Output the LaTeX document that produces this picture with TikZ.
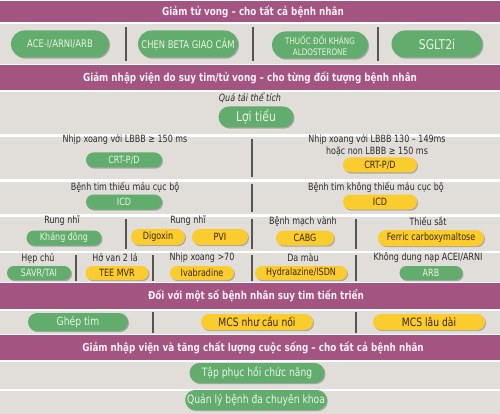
\documentclass[tikz,border=0pt]{standalone}
\usepackage{fontspec}
\setmainfont{DejaVu Sans}[FakeStretch=0.8]
\usetikzlibrary{shapes.misc,shadows}
\definecolor{hdrc}{RGB}{164,84,128}
\definecolor{hdrtxt}{RGB}{250,240,245}
\definecolor{rowbg}{RGB}{225,221,217}
\definecolor{gfill}{RGB}{98,172,110}
\definecolor{yfill}{RGB}{250,204,45}
\definecolor{gtext}{RGB}{232,245,228}
\definecolor{ytext}{RGB}{60,40,15}
\definecolor{bodyc}{RGB}{45,45,45}
\definecolor{divc}{RGB}{85,85,85}
\tikzset{
  hdrtext/.style={text=hdrtxt, font=\bfseries\fontsize{11}{13}\selectfont, inner sep=0pt},
  lbl/.style={text=bodyc, font=\fontsize{10}{12}\selectfont, inner sep=0pt, align=center},
  pillbase/.style={rounded rectangle, inner sep=0pt, align=center,
    drop shadow={shadow xshift=1pt, shadow yshift=-1.2pt, opacity=0.45, fill=black!60}},
  gp/.style={pillbase, fill=gfill, text=gtext},
  yp/.style={pillbase, fill=yfill, text=ytext},
  divl/.style={draw=divc, line width=1.6pt},
  fa/.style={font=\fontsize{10}{12}\selectfont},
  fb/.style={font=\fontsize{11.5}{13}\selectfont},
  fc/.style={font=\fontsize{13.5}{15}\selectfont},
}
\begin{document}
\begin{tikzpicture}[x=1pt,y=-1pt]
\fill[white] (0,0) rectangle (500,414);
\useasboundingbox (0,0) rectangle (500,414);
% gray rows
\foreach \a/\b in {24/64,92/134,137/179,182/214,217/251,253/282,311/334,362/389,391/414}
  \fill[rowbg] (0,\a) rectangle (500,\b);
% header bands
\foreach \a/\b in {1/22,65/90,283/309,335/360}
  \fill[hdrc] (0,\a) rectangle (500,\b);
% dividers
\foreach \x in {126,253,378} \draw[divl] (\x,27) -- (\x,61);
\foreach \a/\b in {139/177,184/212,219/249,255/281} \draw[divl] (252,\a) -- (252,\b);
\draw[divl] (126,219) -- (126,249);
\draw[divl] (356,219) -- (356,249);
\draw[divl] (356,255) -- (356,281);
\draw[divl] (76,255) -- (76,281);
\draw[divl] (153,255) -- (153,281);
\draw[divl] (153,312) -- (153,333);
\draw[divl] (356,312) -- (356,333);
% headers
\node[hdrtext] (h1) at (253,12) {Giảm tử vong – cho tất cả bệnh nhân};
\node[hdrtext] (h2) at (250,78) {Giảm nhập viện do suy tim/tử vong – cho từng đối tượng bệnh nhân};
\node[hdrtext] (h3) at (256,296) {Đối với một số bệnh nhân suy tim tiến triển};
\node[hdrtext] (h4) at (253,348) {Giảm nhập viện và tăng chất lượng cuộc sống – cho tất cả bệnh nhân};
% row 1
\node[gp, minimum width=98pt, minimum height=27pt, font=\fontsize{10.5}{12}\selectfont] (ace) at (60,44) {ACE-I/ARNI/ARB};
\node[gp, minimum width=100pt, minimum height=27pt, font=\fontsize{10.5}{12}\selectfont] (beta) at (188,44) {CHẸN BETA GIAO CẢM};
\node[gp, minimum width=96pt, minimum height=27pt, font=\fontsize{9}{11}\selectfont] (aldo) at (320,45) {THUỐC ĐỐI KHÁNG\\ALDOSTERONE};
\node[gp, minimum width=91pt, minimum height=27pt, font=\fontsize{13.5}{15}\selectfont] (sglt) at (437,44) {SGLT2i};
% volume
\node[lbl, font=\itshape\fontsize{10}{12}\selectfont] (qua) at (250,98) {Quá tải thể tích};
\node[gp, fc, minimum width=75pt, minimum height=21pt] (loi) at (256,117) {Lợi tiểu};
% CRT row
\node[lbl] (t1) at (125,140) {Nhịp xoang với LBBB ≥ 150 ms};
\node[gp, fa, minimum width=76pt, minimum height=15pt] (crtg) at (124,160) {CRT-P/D};
\node[lbl, font=\fontsize{10}{12}\selectfont] (t2) at (377,145) {Nhịp xoang với LBBB 130 – 149ms\\hoặc non LBBB ≥ 150 ms};
\node[yp, fa, minimum width=74pt, minimum height=15pt] (crty) at (380,165) {CRT-P/D};
% ICD row
\node[lbl] (t3) at (125,187) {Bệnh tim thiếu máu cục bộ};
\node[gp, fa, minimum width=76pt, minimum height=15pt] (icdg) at (124,202) {ICD};
\node[lbl] (t4) at (376,187) {Bệnh tim không thiếu máu cục bộ};
\node[yp, fa, minimum width=74pt, minimum height=15pt] (icdy) at (380,202) {ICD};
% AF row
\node[lbl] (t5) at (62,221) {Rung nhĩ};
\node[gp, fa, minimum width=75pt, minimum height=15pt] (khang) at (64,238) {Kháng đông};
\node[lbl] (t6) at (188,221) {Rung nhĩ};
\node[yp, fa, minimum width=54pt, minimum height=16pt] (digo) at (158,237) {Digoxin};
\node[yp, fa, minimum width=56pt, minimum height=16pt] (pvi) at (220,237) {PVI};
\node[lbl] (t7) at (303,221) {Bệnh mạch vành};
\node[yp, fa, minimum width=58pt, minimum height=15pt] (cabg) at (305,238) {CABG};
\node[lbl] (t8) at (428,221) {Thiếu sắt};
\node[yp, fa, minimum width=106pt, minimum height=16pt] (ferric) at (431,238) {Ferric carboxymaltose};
% valve row
\node[lbl] (t9) at (38,258) {Hẹp chủ};
\node[gp, fa, minimum width=64pt, minimum height=14pt] (savr) at (39,273) {SAVR/TAI};
\node[lbl] (t10) at (115,258) {Hở van 2 lá};
\node[yp, fa, minimum width=63pt, minimum height=14pt] (tee) at (117,273) {TEE MVR};
\node[lbl] (t11) at (202,258) {Nhịp xoang >70};
\node[yp, fa, minimum width=64pt, minimum height=14pt] (ivab) at (202,273) {Ivabradine};
\node[lbl] (t12) at (303,258) {Da màu};
\node[yp, fa, minimum width=92pt, minimum height=14pt] (hydra) at (301,273) {Hydralazine/ISDN};
\node[lbl] (t13) at (428,258) {Không dung nạp ACEI/ARNI};
\node[gp, fa, minimum width=63pt, minimum height=14pt] (arb) at (431,273) {ARB};
% advanced
\node[gp, fb, minimum width=100pt, minimum height=18pt] (ghep) at (78,322) {Ghép tim};
\node[yp, fb, minimum width=112pt, minimum height=16pt] (mcs1) at (257,322) {MCS như cầu nối};
\node[yp, fb, minimum width=112pt, minimum height=16pt] (mcs2) at (429,322) {MCS lâu dài};
% QoL
\node[gp, fb, minimum width=135pt, minimum height=20pt] (tap) at (257,373) {Tập phục hồi chức năng};
\node[gp, fb, minimum width=141pt, minimum height=20pt] (quan) at (256,400) {Quản lý bệnh đa chuyên khoa};
\end{tikzpicture}
\end{document}
